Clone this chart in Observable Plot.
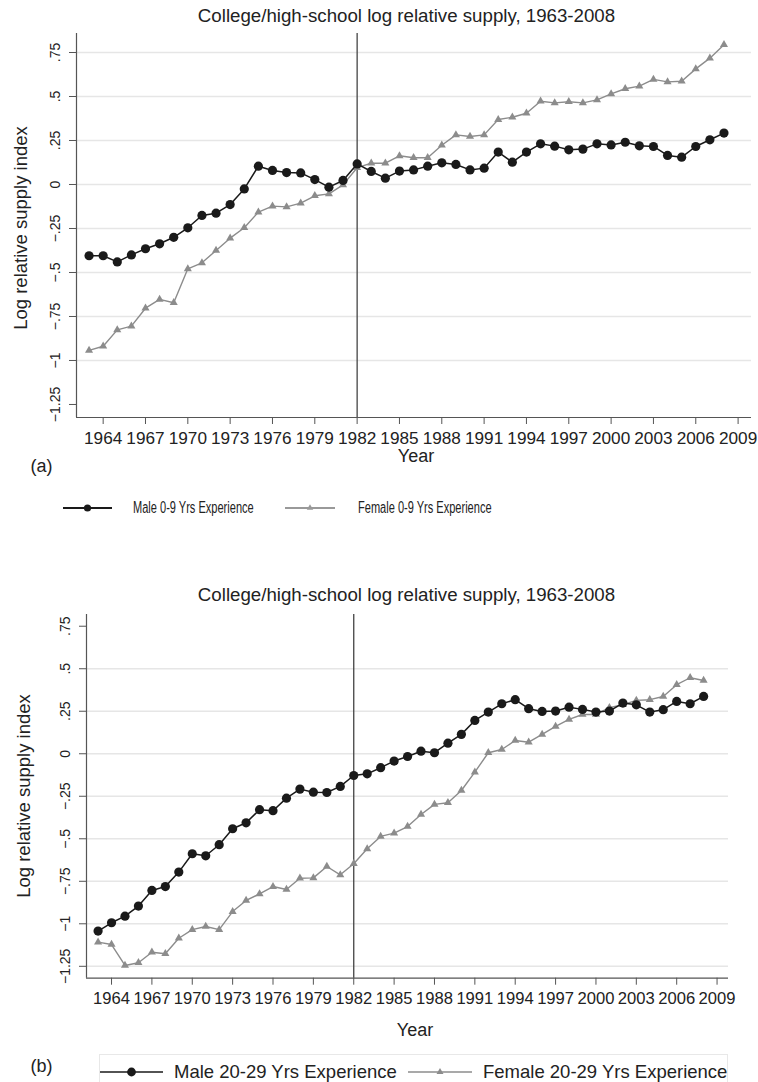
<!DOCTYPE html>
<html><head><meta charset="utf-8">
<script src="https://cdn.jsdelivr.net/npm/d3@7"></script>
<script src="https://cdn.jsdelivr.net/npm/@observablehq/plot@0.6"></script>
<style>
body{margin:0;background:#fff;}
#root{position:relative;width:758px;height:1082px;overflow:hidden;font-family:"Liberation Sans",Arial,Helvetica,sans-serif;color:#222;background:#fff;}
.t{position:absolute;white-space:nowrap;line-height:1;}
.chart{position:absolute;left:0;}
</style></head><body><div id="root"></div>
<script>
// ---- data ----
const years = [1963,1964,1965,1966,1967,1968,1969,1970,1971,1972,1973,1974,1975,1976,1977,1978,1979,1980,1981,1982,1983,1984,1985,1986,1987,1988,1989,1990,1991,1992,1993,1994,1995,1996,1997,1998,1999,2000,2001,2002,2003,2004,2005,2006,2007,2008];
const male09 = [-0.405,-0.405,-0.44,-0.40,-0.365,-0.337,-0.30,-0.246,-0.176,-0.163,-0.114,-0.025,0.104,0.080,0.068,0.066,0.028,-0.015,0.023,0.117,0.074,0.036,0.076,0.083,0.104,0.123,0.114,0.083,0.093,0.184,0.127,0.184,0.231,0.218,0.197,0.201,0.231,0.225,0.240,0.220,0.216,0.165,0.155,0.216,0.254,0.292];
const female09 = [-0.943,-0.919,-0.826,-0.805,-0.703,-0.653,-0.672,-0.479,-0.445,-0.375,-0.305,-0.246,-0.157,-0.123,-0.127,-0.106,-0.064,-0.053,-0.002,0.095,0.121,0.121,0.163,0.152,0.152,0.223,0.282,0.273,0.282,0.369,0.382,0.405,0.473,0.464,0.470,0.464,0.481,0.515,0.544,0.559,0.597,0.583,0.587,0.657,0.718,0.794];
const male2029 = [-1.043,-0.994,-0.955,-0.896,-0.804,-0.781,-0.696,-0.588,-0.600,-0.535,-0.441,-0.406,-0.329,-0.335,-0.261,-0.208,-0.226,-0.228,-0.192,-0.128,-0.118,-0.082,-0.043,-0.016,0.015,0.006,0.062,0.114,0.196,0.245,0.294,0.318,0.265,0.249,0.251,0.274,0.261,0.245,0.251,0.298,0.288,0.245,0.259,0.308,0.294,0.337];
const female2029 = [-1.108,-1.122,-1.245,-1.229,-1.167,-1.176,-1.085,-1.034,-1.016,-1.034,-0.928,-0.863,-0.824,-0.781,-0.798,-0.732,-0.730,-0.663,-0.712,-0.647,-0.559,-0.486,-0.467,-0.428,-0.357,-0.298,-0.288,-0.216,-0.108,0.006,0.025,0.078,0.068,0.114,0.161,0.202,0.231,0.231,0.271,0.288,0.314,0.318,0.337,0.406,0.447,0.431];
const xTicks = [1964,1967,1970,1973,1976,1979,1982,1985,1988,1991,1994,1997,2000,2003,2006,2009];
const yTicks = [0.75,0.5,0.25,0,-0.25,-0.5,-0.75,-1,-1.25];
const yTickLabels = [".75",".5",".25","0","\u2212.25","\u2212.5","\u2212.75","\u22121","\u22121.25"];
const gridA = [0.75,0.5,0.25,0,-0.25,-0.5,-0.75,-1];
const gridB = [0.5,0.25,0,-0.25,-0.5,-0.75,-1,-1.25];
const markYear = 1982;
const title = "College/high-school log relative supply, 1963-2008";
const yLabel = "Log relative supply index";
const xLabel = "Year";
const legendA = ["Male 0-9 Yrs Experience", "Female 0-9 Yrs Experience"];
const legendB = ["Male 20-29 Yrs Experience", "Female 20-29 Yrs Experience"];

const MALE = "#1a1a1a", FEMALE = "#8c8c8c";
const root = document.getElementById("root");

function makeChart({male, female, xDomain, yDomain, grid, ml, mr, mt, mb, top, xfs}) {
  const rows = years.map((yr, i) => ({year: yr, male: male[i], female: female[i]}));
  const labelOf = new Map(yTicks.map((t, i) => [t, yTickLabels[i]]));
  const chart = Plot.plot({
    width: 758, height: 470,
    marginLeft: ml, marginRight: mr, marginTop: mt, marginBottom: mb,
    style: {fontFamily: '"Liberation Sans", Arial, sans-serif', fontSize: "16px", color: "#222", background: "transparent", overflow: "visible"},
    x: {domain: xDomain},
    y: {domain: yDomain},
    marks: [
      Plot.gridY(grid, {stroke: "#e6e6e6", strokeOpacity: 1, strokeWidth: 1.6}),
      Plot.axisX(xTicks, {tickSize: 7, tickPadding: 7, tickFormat: d => String(d), stroke: "#555", label: null, fontSize: xfs}),
      Plot.axisY(yTicks, {tickSize: 7, tickFormat: () => "", stroke: "#555", label: null}),
      Plot.text(yTicks, {x: () => xDomain[0], y: d => d, text: d => labelOf.get(d), rotate: -90, dx: -21, textAnchor: "middle", lineAnchor: "middle", fontSize: 14, fill: "#222"}),
      Plot.ruleX([xDomain[0]], {stroke: "#555", strokeWidth: 1.2}),
      Plot.ruleY([yDomain[0]], {stroke: "#555", strokeWidth: 1.2}),
      Plot.ruleX([markYear], {stroke: "#444", strokeWidth: 1.3}),
      Plot.line(rows, {x: "year", y: "female", stroke: FEMALE, strokeWidth: 1.4}),
      Plot.dot(rows, {x: "year", y: "female", symbol: "triangle", r: 3, fill: FEMALE, stroke: "none"}),
      Plot.line(rows, {x: "year", y: "male", stroke: MALE, strokeWidth: 1.5}),
      Plot.dot(rows, {x: "year", y: "male", r: 4.6, fill: MALE, stroke: "none"})
    ]
  });
  chart.classList.add("chart");
  chart.style.top = top + "px";
  root.appendChild(chart);
}

makeChart({male: male09, female: female09, xDomain: [1962.11, 2009.95], yDomain: [-1.324, 0.858], grid: gridA, ml: 76, mr: 7, mt: 33, mb: 53, top: 0, xfs: 17.2});
makeChart({male: male2029, female: female2029, xDomain: [1962.14, 2009.85], yDomain: [-1.32, 0.819], grid: gridB, ml: 86, mr: 30, mt: 54, mb: 52.3, top: 560, xfs: 16.6});

function addText(txt, {x, y, size, anchor = "middle", rotate = 0, sx = 1}) {
  const d = document.createElement("div");
  d.className = "t";
  d.textContent = txt;
  d.style.fontSize = size + "px";
  d.style.left = x + "px";
  d.style.top = y + "px";
  if (anchor === "middle") {
    d.style.transform = `translate(-50%,-50%) rotate(${rotate}deg)`;
  } else {
    d.style.transformOrigin = "0 50%";
    d.style.transform = `translate(0,-50%) scaleX(${sx})`;
  }
  root.appendChild(d);
}

addText(title, {x: 406.5, y: 15.5, size: 18.7});
addText(title, {x: 406.5, y: 595, size: 18.7});
addText(yLabel, {x: 20.5, y: 227.5, size: 18.5, rotate: -90});
addText(yLabel, {x: 24, y: 796, size: 18.5, rotate: -90});
addText(xLabel, {x: 416, y: 455.5, size: 18});
addText(xLabel, {x: 415, y: 1029.7, size: 18});
addText("(a)", {x: 41.5, y: 466, size: 18});
addText("(b)", {x: 41.5, y: 1066, size: 18});

// legend box (b)
const box = document.createElement("div");
box.style.cssText = "position:absolute;left:99px;top:1054px;width:629px;height:60px;border:1px solid #e8e8e8;box-sizing:border-box;";
root.appendChild(box);

addText(legendA[0], {x: 133, y: 508, size: 16, anchor: "start", sx: 0.69});
addText(legendA[1], {x: 358, y: 508, size: 16, anchor: "start", sx: 0.69});
addText(legendB[0], {x: 174, y: 1072, size: 18.5, anchor: "start"});
addText(legendB[1], {x: 483, y: 1072, size: 18.5, anchor: "start"});

// legend keys
const svg = d3.select(root).append("svg").attr("width", 758).attr("height", 1082)
  .style("position", "absolute").style("left", 0).style("top", 0).style("pointer-events", "none");
function key(x0, x1, y, color, sym, r, w) {
  svg.append("line").attr("x1", x0).attr("x2", x1).attr("y1", y).attr("y2", y).attr("stroke", color).attr("stroke-width", w);
  const cx = (x0 + x1) / 2;
  const s = d3.symbol(sym === "circle" ? d3.symbolCircle : d3.symbolTriangle, Math.PI * r * r);
  svg.append("path").attr("d", s()).attr("transform", `translate(${cx},${y})`).attr("fill", color);
}
key(63, 112, 508, MALE, "circle", 3.6, 1.8);
key(285, 335, 508, "#999", "triangle", 2.4, 1.8);
key(100, 163, 1072, MALE, "circle", 4.4, 1.6);
key(408, 472, 1072, FEMALE, "triangle", 2.6, 1.6);
</script></body></html>
